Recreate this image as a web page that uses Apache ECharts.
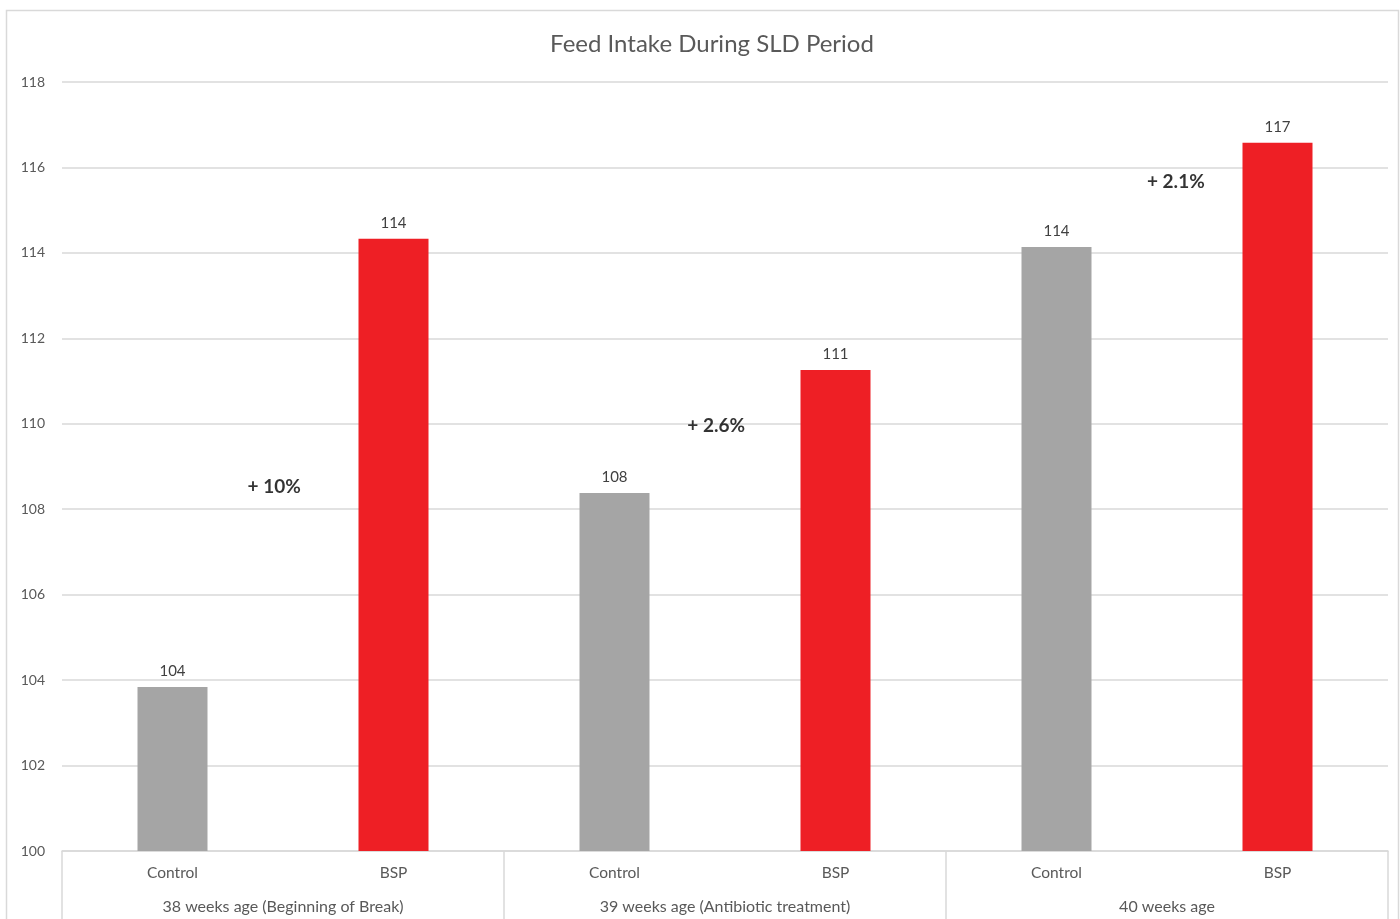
<!DOCTYPE html>
<html>
<head>
<meta charset="utf-8">
<script src="https://cdn.jsdelivr.net/npm/echarts@6/dist/echarts.min.js"></script>
<style>
  html, body { margin: 0; padding: 0; background: #fff; }
  #chart { width: 1400px; height: 919px; }
</style>
</head>
<body>
<div id="chart"></div>
<script>
// Feed intake per treatment, grouped by age week
const treatments = ['Control', 'BSP', 'Control', 'BSP', 'Control', 'BSP'];
const ageGroups = ['38 weeks age (Beginning of Break)', '39 weeks age (Antibiotic treatment)', '40 weeks age'];
const intake = [103.84, 114.33, 108.38, 111.26, 114.14, 116.58];
const barColors = ['#a5a5a5', '#ee1f25', '#a5a5a5', '#ee1f25', '#a5a5a5', '#ee1f25'];
// Percentage gain labels: [x position in category units, y value, text]
const gains = [
  [0.96, 108.52, '+ 10%'],
  [2.96, 109.95, '+ 2.6%'],
  [5.04, 115.67, '+ 2.1%']
];
const yTicks = { min: 100, max: 118, interval: 2 };

const font = 'Lato, "Open Sans", sans-serif';
const chart = echarts.init(document.getElementById('chart'));

chart.setOption({
  animation: false,
  textStyle: { fontFamily: font },
  title: {
    text: 'Feed Intake During SLD Period',
    left: 707,
    textAlign: 'center',
    top: 27,
    textStyle: { fontFamily: font, fontSize: 24, fontWeight: 'normal', color: '#595959' }
  },
  graphic: [{
    type: 'rect',
    shape: { x: 6.5, y: 10.5, width: 1392, height: 920 },
    style: { fill: 'none', stroke: '#d9d9d9', lineWidth: 1.5 },
    silent: true
  }],
  grid: { left: 62, right: 12, top: 82, bottom: 68, containLabel: false },
  xAxis: [
    {
      type: 'category',
      data: treatments,
      axisLine: { show: true, lineStyle: { color: '#d9d9d9', width: 1.5 } },
      axisTick: { show: false },
      axisLabel: { interval: 0, margin: 14, fontSize: 15.5, color: '#595959', fontFamily: font }
    },
    {
      type: 'category',
      data: ageGroups,
      position: 'bottom',
      axisLine: { show: false },
      axisTick: { show: true, length: 70, lineStyle: { color: '#d9d9d9', width: 1.5 } },
      axisLabel: { interval: 0, margin: 48, fontSize: 16, color: '#595959', fontFamily: font }
    },
    {
      type: 'value',
      min: 0,
      max: 6,
      show: false
    }
  ],
  yAxis: {
    type: 'value',
    min: yTicks.min,
    max: yTicks.max,
    interval: yTicks.interval,
    axisLine: { show: false },
    axisTick: { show: false },
    splitLine: { lineStyle: { color: '#d9d9d9', width: 1.5 } },
    axisLabel: { fontSize: 14, color: '#595959', margin: 17, fontFamily: font }
  },
  series: [
    {
      type: 'bar',
      xAxisIndex: 0,
      barWidth: 70,
      data: intake.map((v, i) => ({ value: v, itemStyle: { color: barColors[i] } })),
      label: {
        show: true,
        position: 'top',
        distance: 8,
        fontSize: 15,
        color: '#404040',
        fontFamily: font,
        formatter: p => Math.round(p.value).toString()
      }
    },
    {
      type: 'scatter',
      xAxisIndex: 2,
      symbolSize: 0,
      silent: true,
      data: gains.map(g => ({ value: [g[0], g[1]], name: g[2] })),
      label: {
        show: true,
        position: 'inside',
        formatter: p => p.name,
        fontSize: 19,
        fontWeight: 'bold',
        color: '#000',
        fontFamily: font
      }
    }
  ]
});
</script>
</body>
</html>
